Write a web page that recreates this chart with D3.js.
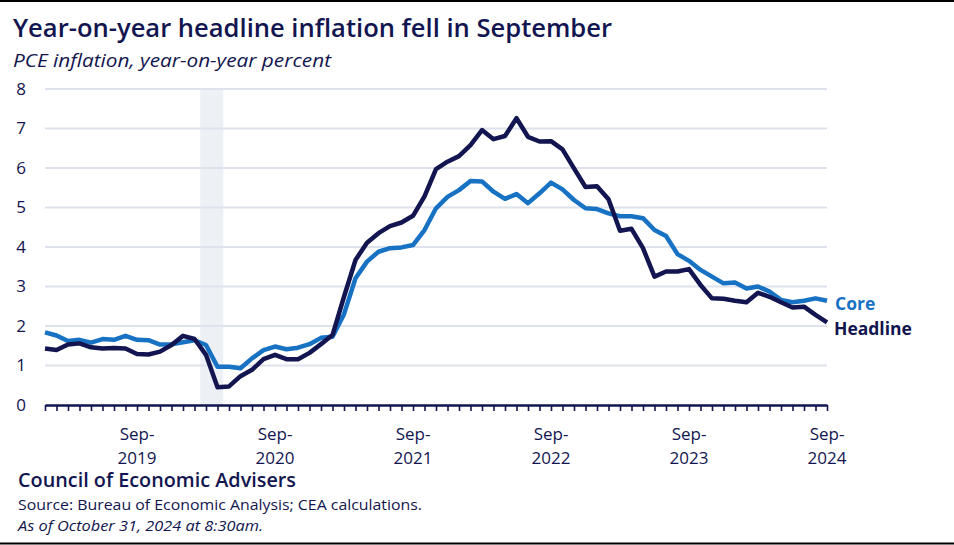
<!DOCTYPE html>
<html><head><meta charset="utf-8">
<script src="https://cdn.jsdelivr.net/npm/d3@7"></script>
<style>
html,body{margin:0;padding:0;background:#fff;}
svg{display:block;font-family:"Open Sans","Noto Sans",sans-serif;}
</style></head>
<body><svg id="chart" width="954" height="545"></svg>
<script>
// ---- data ----
const months = d3.range(69).map(i => {
  const d = new Date(2019, i, 1);
  return d3.timeFormat("%Y-%m")(d);
});
const headline = [1.43,1.39,1.53,1.56,1.46,1.43,1.44,1.43,1.29,1.28,1.35,1.52,
  1.75,1.67,1.27,0.45,0.47,0.73,0.89,1.16,1.27,1.16,1.16,1.32,
  1.54,1.77,2.74,3.67,4.11,4.35,4.53,4.62,4.79,5.28,5.97,6.16,
  6.30,6.58,6.96,6.73,6.81,7.26,6.79,6.67,6.68,6.47,5.99,5.52,
  5.54,5.21,4.41,4.46,3.97,3.25,3.38,3.38,3.44,3.04,2.70,2.69,
  2.64,2.60,2.84,2.74,2.60,2.47,2.49,2.28,2.09];
const core = [1.84,1.76,1.62,1.65,1.58,1.67,1.65,1.75,1.65,1.64,1.53,1.54,
  1.59,1.64,1.52,0.97,0.97,0.93,1.18,1.39,1.48,1.41,1.45,1.54,
  1.70,1.73,2.30,3.21,3.63,3.88,3.97,3.99,4.05,4.43,4.98,5.27,
  5.44,5.67,5.66,5.40,5.22,5.34,5.11,5.36,5.63,5.46,5.19,4.98,
  4.96,4.85,4.78,4.78,4.73,4.43,4.28,3.82,3.65,3.42,3.25,3.08,
  3.10,2.95,3.00,2.87,2.66,2.60,2.64,2.70,2.64];
const yTicks = [0,1,2,3,4,5,6,7,8];
const xLabelMonths = ["2019-09","2020-09","2021-09","2022-09","2023-09","2024-09"];
const xLabels = [["Sep-","2019"],["Sep-","2020"],["Sep-","2021"],["Sep-","2022"],["Sep-","2023"],["Sep-","2024"]];
const recession = ["2020-03","2020-04"];
const seriesNames = ["Core","Headline"];

// ---- styles ----
const navy = "#12154f", blue = "#1872c3", grid = "#dde2ed", shade = "#edf0f5";

const svg = d3.select("#chart");
const x = d3.scalePoint().domain(months).range([45, 827]).padding(0);
const y = d3.scaleLinear().domain([0, 8]).range([405, 89]);
const step = x.step();

// borders
svg.append("line").attr("x1",0).attr("x2",954).attr("y1",1).attr("y2",1).attr("stroke","#000").attr("stroke-width",2);
svg.append("line").attr("x1",0).attr("x2",954).attr("y1",543.5).attr("y2",543.5).attr("stroke","#000").attr("stroke-width",2);

// recession shading
svg.append("rect")
  .attr("x", x(recession[0]) - step/2)
  .attr("width", x(recession[1]) - x(recession[0]) + step)
  .attr("y", y(8)).attr("height", y(0) - y(8))
  .attr("fill", shade);

// gridlines
svg.append("g").selectAll("line").data(yTicks.filter(d => d > 0)).join("line")
  .attr("x1", 45).attr("x2", 827)
  .attr("y1", d => y(d)).attr("y2", d => y(d))
  .attr("stroke", grid).attr("stroke-width", 2);

// y labels
svg.append("g").selectAll("text").data(yTicks).join("text")
  .attr("x", 26).attr("y", d => y(d)).attr("dy", "0.35em")
  .attr("text-anchor", "end").attr("font-size", 17).attr("fill", navy)
  .text(d => d);

// x axis
const xAxis = d3.axisBottom(x).tickValues(months).tickFormat("").tickSize(6).tickSizeOuter(0);
const gx = svg.append("g").attr("transform", "translate(0,405)").call(xAxis);
gx.select(".domain").attr("stroke", navy).attr("stroke-width", 2.5);
gx.selectAll(".tick line").attr("stroke", navy).attr("stroke-width", 1.6);

// x labels
const xl = svg.append("g").selectAll("text").data(xLabelMonths).join("text")
  .attr("x", d => x(d)).attr("text-anchor", "middle")
  .attr("font-size", 17).attr("fill", navy);
xl.append("tspan").attr("x", d => x(d)).attr("y", 440).text((d,i) => xLabels[i][0]);
xl.append("tspan").attr("x", d => x(d)).attr("y", 464).text((d,i) => xLabels[i][1]);

// lines
const line = d3.line().x((d,i) => x(months[i])).y(d => y(d));
svg.append("path").datum(core).attr("d", line).attr("fill","none")
  .attr("stroke", blue).attr("stroke-width", 4.5).attr("stroke-linejoin","round");
svg.append("path").datum(headline).attr("d", line).attr("fill","none")
  .attr("stroke", navy).attr("stroke-width", 4.5).attr("stroke-linejoin","round");

// series labels
svg.append("text").attr("x", 835).attr("y", y(core[core.length-1]) + 9.5)
  .attr("font-size", 17.5).attr("font-weight", 700).attr("fill", blue).text(seriesNames[0]);
svg.append("text").attr("x", 834).attr("y", y(headline[headline.length-1]) + 13)
  .attr("font-size", 17.5).attr("font-weight", 700).attr("fill", navy).text(seriesNames[1]);

// title / subtitle
svg.append("text").attr("x", 13).attr("y", 37).attr("font-size", 25).attr("font-weight", 600)
  .attr("fill", navy).attr("textLength", 599).attr("lengthAdjust","spacingAndGlyphs")
  .text("Year-on-year headline inflation fell in September");
svg.append("text").attr("x", 13).attr("y", 67).attr("font-size", 19).attr("font-style", "italic")
  .attr("fill", navy).attr("textLength", 318).attr("lengthAdjust","spacingAndGlyphs")
  .text("PCE inflation, year-on-year percent");

// footer
svg.append("text").attr("x", 18).attr("y", 487).attr("font-size", 19).attr("font-weight", 600)
  .attr("fill", navy).attr("textLength", 278).attr("lengthAdjust","spacingAndGlyphs")
  .text("Council of Economic Advisers");
svg.append("text").attr("x", 18).attr("y", 510).attr("font-size", 15)
  .attr("fill", navy).attr("textLength", 404).attr("lengthAdjust","spacingAndGlyphs")
  .text("Source: Bureau of Economic Analysis; CEA calculations.");
svg.append("text").attr("x", 18).attr("y", 531).attr("font-size", 15).attr("font-style","italic")
  .attr("fill", navy).attr("textLength", 245).attr("lengthAdjust","spacingAndGlyphs")
  .text("As of October 31, 2024 at 8:30am.");
</script></body></html>
